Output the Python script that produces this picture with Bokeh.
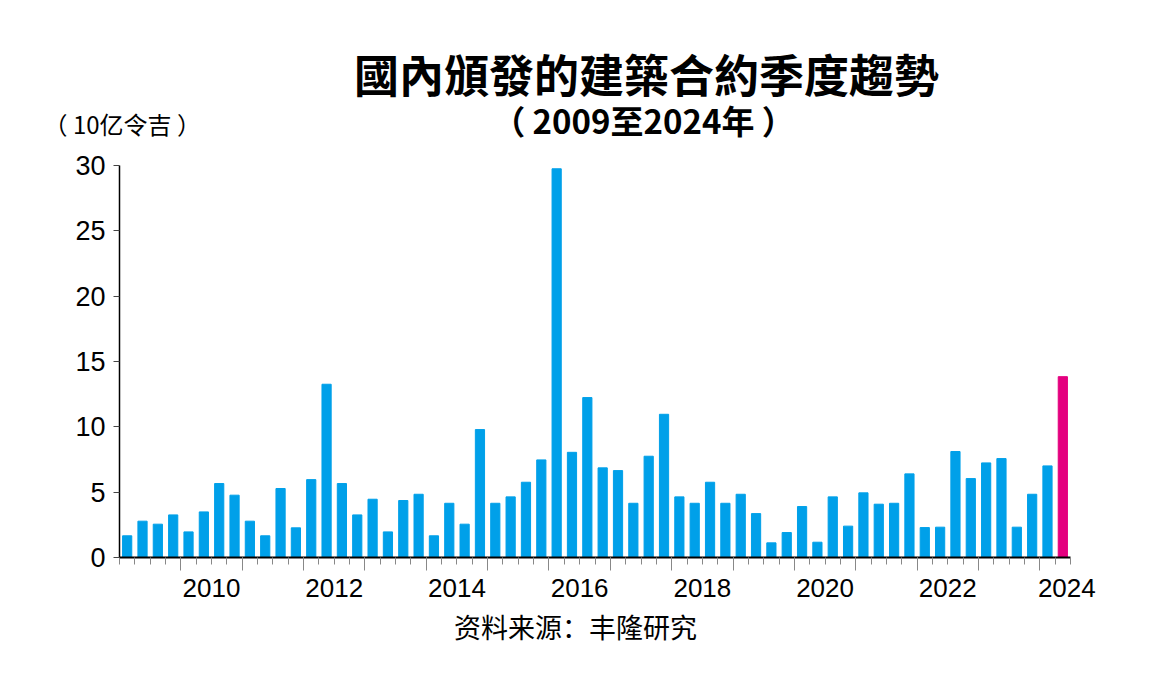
from bokeh.plotting import figure
from bokeh.models import ColumnDataSource, FixedTicker, LinearAxis, Label, Range1d, Title
from bokeh.embed import file_html
from bokeh.resources import INLINE

# ---- data ----
start_year = 2009
values = [1.66, 2.78, 2.55, 3.26, 1.96, 3.49, 5.66, 4.77, 2.78, 1.66,
          5.28, 2.27, 5.96, 13.26, 5.66, 3.26, 4.46, 1.96, 4.36, 4.84,
          1.66, 4.15, 2.55, 9.79, 4.15, 4.64, 5.76, 7.47, 29.75, 8.05,
          12.24, 6.86, 6.65, 4.15, 7.75, 10.96, 4.64, 4.15, 5.76, 4.15,
          4.84, 3.36, 1.12, 1.91, 3.90, 1.17, 4.64, 2.40, 4.95, 4.08,
          4.15, 6.40, 2.29, 2.32, 8.11, 6.04, 7.24, 7.57, 2.32, 4.84,
          7.01, 13.84]
highlight = [False] * (len(values) - 1) + [True]
year_labels = ["2010", "2012", "2014", "2016", "2018", "2020", "2022", "2024"]
y_ticks = [0, 5, 10, 15, 20, 25, 30]
y_max = 30

title_text = "國內頒發的建築合約季度趨勢"
subtitle_text = "（ 2009至2024年 ）"
unit_text = "（ 10亿令吉  ）"
source_text = "资料来源：丰隆研究"

BLUE = "#00A0E9"
MAGENTA = "#E4007F"

# ---- layout (canvas pixels) ----
W, H = 1150, 690
AX_L, AX_R, AX_T, AX_B = 119, 1070, 165, 557   # where the axes box sits
FRAME_L, FRAME_R, FRAME_B = 52, 1098, 572      # plotting frame (extended for the texts)

n = len(values)
end_x = start_year + n / 4
px_per_year = (AX_R - AX_L) / (end_x - start_year)
px_per_unit = (AX_B - AX_T) / y_max
x_start = start_year - (AX_L - FRAME_L) / px_per_year
x_end = end_x + (FRAME_R - AX_R) / px_per_year
y_start = -(FRAME_B - AX_B) / px_per_unit
y_end = AX_B / px_per_unit

xs = [start_year + (i + 0.5) / 4 for i in range(n)]
colors = [MAGENTA if h else BLUE for h in highlight]
src = ColumnDataSource(dict(x=xs, top=values, color=colors))

p = figure(width=W, height=H, output_backend="svg", toolbar_location=None,
           x_range=Range1d(x_start, x_end), y_range=Range1d(y_start, y_end),
           min_border_left=FRAME_L, min_border_right=W - FRAME_R,
           min_border_top=0, min_border_bottom=H - FRAME_B)
p.outline_line_color = None
p.grid.visible = False
p.background_fill_color = "white"
p.border_fill_color = "white"

p.vbar(x="x", top="top", width=0.25 * 0.6, color="color", source=src)

FONT = "Liberation Sans"

# y axis, pinned at the start of the data
ya = p.yaxis[0]
ya.fixed_location = start_year
ya.bounds = (0, y_max)
ya.ticker = FixedTicker(ticks=y_ticks)
ya.axis_line_color = "black"
ya.axis_line_width = 1.5
ya.major_tick_line_color = "#444444"
ya.major_tick_out = 6
ya.major_tick_in = 0
ya.minor_tick_line_color = None
ya.major_label_text_font = FONT
ya.major_label_text_font_size = "27px"
ya.major_label_text_color = "black"
ya.major_label_standoff = 8

# year label axis: labels centred on each (even) year, directly under the frame
lab_pos = [int(y) + 0.5 for y in year_labels]
lab_pos[-1] -= 0.06
xb = p.xaxis[0]
xb.ticker = FixedTicker(ticks=lab_pos)
xb.major_label_overrides = {pos: lbl for pos, lbl in zip(lab_pos, year_labels)}
xb.axis_line_color = None
xb.major_tick_line_color = None
xb.minor_tick_line_color = None
xb.major_label_text_font = FONT
xb.major_label_text_font_size = "26px"
xb.major_label_text_color = "black"
xb.major_label_standoff = 0

# baseline axis at zero: ticks at year boundaries, minor ticks per quarter
years = [int(start_year + k) for k in range(1, int(end_x - start_year) + 1)]
xa = LinearAxis(fixed_location=0, bounds=(start_year, end_x),
                ticker=FixedTicker(ticks=years,
                                   minor_ticks=[start_year + q / 4 for q in range(n + 1)]))
xa.axis_line_color = "black"
xa.axis_line_width = 2
xa.major_tick_line_color = "#888888"
xa.major_tick_out = 13
xa.major_tick_in = 0
xa.minor_tick_line_color = "#888888"
xa.minor_tick_out = 7
xa.minor_tick_in = 0
xa.major_label_text_font_size = "1px"
xa.major_label_text_alpha = 0
xa.major_label_standoff = 0
p.add_layout(xa, "below")

# source note below the axes (centred on the frame)
src_title = Title(text=source_text, align="center",
                  text_font="Noto Sans CJK SC", text_font_style="normal",
                  text_font_size="27px", text_color="black", standoff=11)
p.add_layout(src_title, "below")


def canvas_label(cx, cy, text, size, font, bold=False, align="center"):
    # screen units are measured from the frame's bottom-left corner
    return Label(x=cx - FRAME_L, y=FRAME_B - cy, x_units="screen", y_units="screen",
                 text=text, text_font=font,
                 text_font_style="bold" if bold else "normal",
                 text_font_size=size, text_align=align, text_baseline="middle",
                 text_color="black")


p.add_layout(canvas_label(646, 73, title_text, "45px", "Noto Sans CJK TC", bold=True))
p.add_layout(canvas_label(643, 119, subtitle_text, "33px", "Noto Sans CJK TC", bold=True))
p.add_layout(canvas_label(43, 123, unit_text, "24px", "Noto Sans CJK SC", align="left"))

open("out.html", "w").write(file_html(p, INLINE))
